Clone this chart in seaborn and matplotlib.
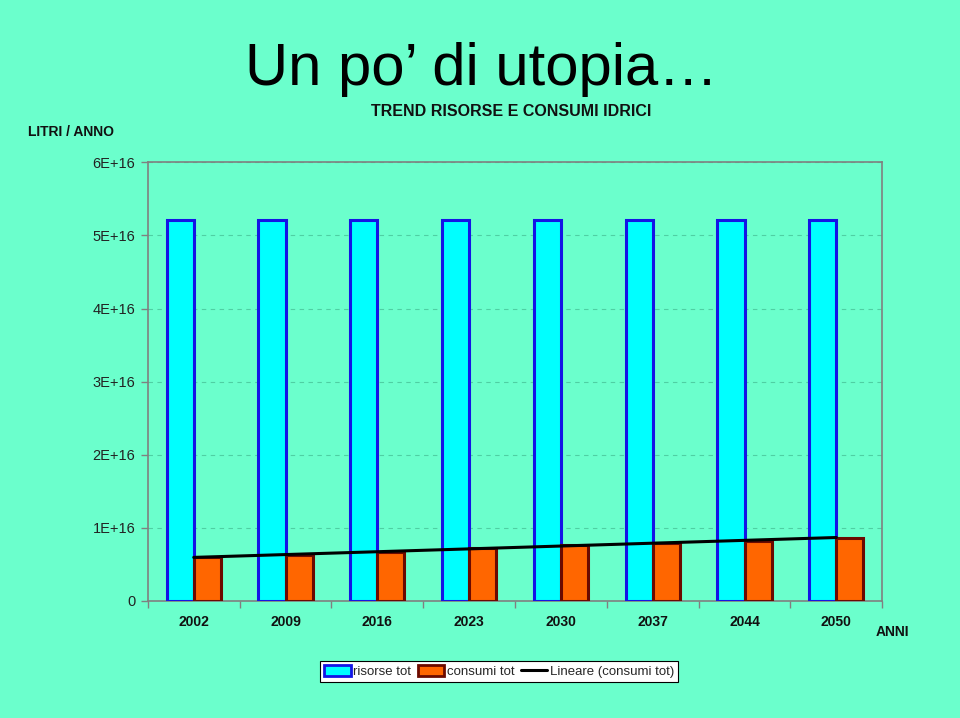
import numpy as np
import pandas as pd
import matplotlib
matplotlib.use("Agg")
import matplotlib.pyplot as plt
import seaborn as sns
from matplotlib.patches import Patch
from matplotlib.lines import Line2D

anni = ["2002", "2009", "2016", "2023", "2030", "2037", "2044", "2050"]
risorse_tot = [5.21e16, 5.21e16, 5.21e16, 5.21e16, 5.21e16, 5.21e16, 5.21e16, 5.21e16]
consumi_tot = [0.597e16, 0.629e16, 0.666e16, 0.72e16, 0.765e16, 0.789e16, 0.824e16, 0.865e16]
serie = ["risorse tot", "consumi tot"]
y_ticks = [0, 1e16, 2e16, 3e16, 4e16, 5e16, 6e16]
y_tick_labels = ["0", "1E+16", "2E+16", "3E+16", "4E+16", "5E+16", "6E+16"]

BG = "#6BFFCC"
sns.set_theme(style="white")
plt.rcParams["font.family"] = ["Liberation Sans", "DejaVu Sans"]

df = pd.DataFrame({
    "anno": anni * 2,
    "valore": risorse_tot + consumi_tot,
    "serie": [serie[0]] * len(anni) + [serie[1]] * len(anni),
})

fig = plt.figure(figsize=(9.6, 7.18), dpi=100, facecolor=BG)
ax = fig.add_axes([0.154, 0.163, 0.765, 0.611])
ax.set_facecolor(BG)

fills = {"risorse tot": "#00FFFF", "consumi tot": "#FF6600"}
edges = {"risorse tot": "#1414E6", "consumi tot": "#6B0A00"}

sns.barplot(data=df, x="anno", y="valore", hue="serie", order=anni, hue_order=serie,
            palette=fills, width=0.59, saturation=1, ax=ax, legend=False, zorder=3)
for cont, s in zip(ax.containers, serie):
    for bar in cont:
        bar.set_edgecolor(edges[s])
        bar.set_linewidth(2.2)
        bar.set_zorder(3)

# linear trend of consumi
idx = np.arange(len(anni))
m, q = np.polyfit(idx, np.array(consumi_tot), 1)
ax.plot(idx, m * idx + q, color="black", lw=2.2, zorder=5)

ax.set_xlim(-0.5, len(anni) - 0.5)
ax.set_ylim(0, 6e16)
ax.set_yticks(y_ticks)
ax.set_yticklabels(y_tick_labels, fontsize=10.5, color="#222222")
ax.set_xticks(idx)
ax.set_xticklabels(anni, fontsize=10, fontweight="bold", color="#111111")
ax.set_xticks(np.arange(-0.5, len(anni) + 0.5, 1), minor=True)
ax.tick_params(axis="x", which="major", length=0, pad=10)
ax.tick_params(axis="x", which="minor", length=5, width=1, color="#808080", direction="out", bottom=True)
ax.tick_params(axis="y", length=5, width=1, color="#808080", direction="out", left=True, pad=4)
ax.set_xlabel("")
ax.set_ylabel("")
for sp in ax.spines.values():
    sp.set_color("#808080")
    sp.set_linewidth(1.2)
ax.yaxis.grid(True, linestyle=(0, (4, 4)), color="#4FCFA3", linewidth=0.8, zorder=0)
ax.set_axisbelow(True)

fig.text(0.502, 0.882, "Un po\u2019 di utopia\u2026", ha="center", va="baseline", fontsize=43, color="black")
fig.text(0.532, 0.838, "TREND RISORSE E CONSUMI IDRICI", ha="center", va="baseline",
         fontsize=11.5, fontweight="bold", color="#111111")
fig.text(0.029, 0.811, "LITRI / ANNO", ha="left", va="baseline", fontsize=10,
         fontweight="bold", color="#111111")
fig.text(0.912, 0.114, "ANNI", ha="left", va="baseline", fontsize=10,
         fontweight="bold", color="#111111")

handles = [
    Patch(facecolor=fills["risorse tot"], edgecolor=edges["risorse tot"], linewidth=2),
    Patch(facecolor=fills["consumi tot"], edgecolor=edges["consumi tot"], linewidth=2),
    Line2D([0], [0], color="black", lw=2.2),
]
leg = fig.legend(handles, ["risorse tot", "consumi tot", "Lineare (consumi tot)"],
                 loc="center", bbox_to_anchor=(0.52, 0.065), ncol=3, fontsize=9.5,
                 frameon=True, fancybox=False, edgecolor="black", facecolor="white",
                 framealpha=1, handlelength=2.0, handleheight=0.9, handletextpad=0.2,
                 columnspacing=0.5, borderpad=0.3, borderaxespad=0)
leg.get_frame().set_linewidth(0.8)

fig.savefig("out.png", dpi=100, facecolor=BG)
